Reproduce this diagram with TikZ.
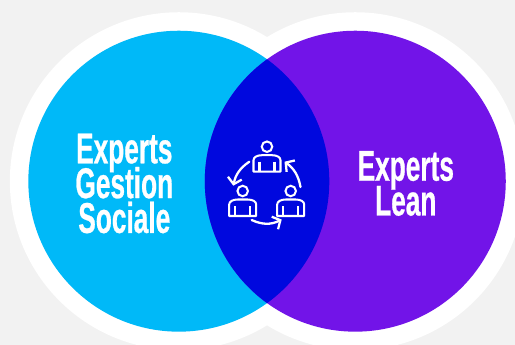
\documentclass[tikz,border=0pt]{standalone}
\usepackage{fontspec}
\usetikzlibrary{arrows.meta}
\newfontfamily\expertfont[FakeStretch=0.61,FakeBold=0.6]{Liberation Sans}

\begin{document}
\begin{tikzpicture}[x=0.02cm, y=-0.02cm]
    % Define palette
    \definecolor{pagegrey}{RGB}{242,242,242}
    \definecolor{socialblue}{RGB}{0,185,248}
    \definecolor{leanpurple}{RGB}{114,20,232}
    \definecolor{overlapblue}{RGB}{0,8,222}

    % Define styles
    \tikzset{
        halo/.style={
            circle,
            fill=white,
            minimum size=6.76cm,
            inner sep=0pt
        },
        disc/.style={
            circle,
            minimum size=6.02cm,
            inner sep=0pt
        },
        expert/.style={
            white,
            align=center,
            inner sep=0pt,
            font={\expertfont\bfseries\fontsize{24.5}{19.8}\selectfont\lineskiplimit=-100pt}
        },
        head/.style={
            circle,
            draw=white,
            line width=1.15pt,
            minimum size=0.21cm,
            inner sep=0pt
        },
        icon/.style={
            draw=white,
            line width=1.15pt,
            line join=round
        },
        cycle/.style={
            draw=white,
            line width=1.3pt,
            line cap=round,
            -{Straight Barb[length=3.5pt,width=8pt,line width=1.3pt]}
        }
    }

    % Page
    \useasboundingbox (0,0) rectangle (515,345);
    \clip (0,0) rectangle (515,345);
    \fill[pagegrey] (0,0) rectangle (515,345);

    % White halos
    \node[halo] (halo_left) at (178.8,181.2) {};
    \node[halo] (halo_right) at (355.3,181.2) {};

    % Two discs
    \node[disc, fill=socialblue] (disc_left) at (178.8,181.2) {};
    \node[disc, fill=leanpurple] (disc_right) at (355.3,181.2) {};

    % Overlap
    \begin{scope}
        \clip (disc_left.center) circle[radius=150.5];
        \fill[overlapblue] (disc_right.center) circle[radius=150.5];
    \end{scope}

    % Labels
    \node[expert] (label_left) at (124.3,183.5) {Experts\\Gestion\\Sociale};
    \node[expert] (label_right) at (405.8,183.5) {Experts\\Lean};

    % Three people
    \foreach \name/\px/\py in {top/267/146.7, left/242.7/191, right/290.7/191} {
        \node[head] (head_\name) at (\px,\py) {};
        \begin{scope}[shift={(\px,\py)}]
            \draw[icon] (-13.5,25) -- (-13.5,13.5) .. controls (-13.5,10.5) and (-10,8.5) .. (-5,8.5)
                -- (5,8.5) .. controls (10,8.5) and (13.5,10.5) .. (13.5,13.5) -- (13.5,25) -- cycle;
            \draw[icon] (-7.5,15) -- (-7.5,25);
            \draw[icon] (7.5,15) -- (7.5,25);
        \end{scope}
    }

    % Arrows between people
    \coordinate (start_a) at (249.3,161.7);
    \coordinate (end_a) at (233.3,185.7);
    \coordinate (start_b) at (251.7,220);
    \coordinate (end_b) at (281.7,219.5);
    \coordinate (start_c) at (300.5,187);
    \coordinate (end_c) at (284.5,161.7);
    \draw[cycle] (start_a) to[bend right=22] (end_a);
    \draw[cycle] (start_b) to[bend right=26] (end_b);
    \draw[cycle] (start_c) to[bend right=22] (end_c);
\end{tikzpicture}
\end{document}
